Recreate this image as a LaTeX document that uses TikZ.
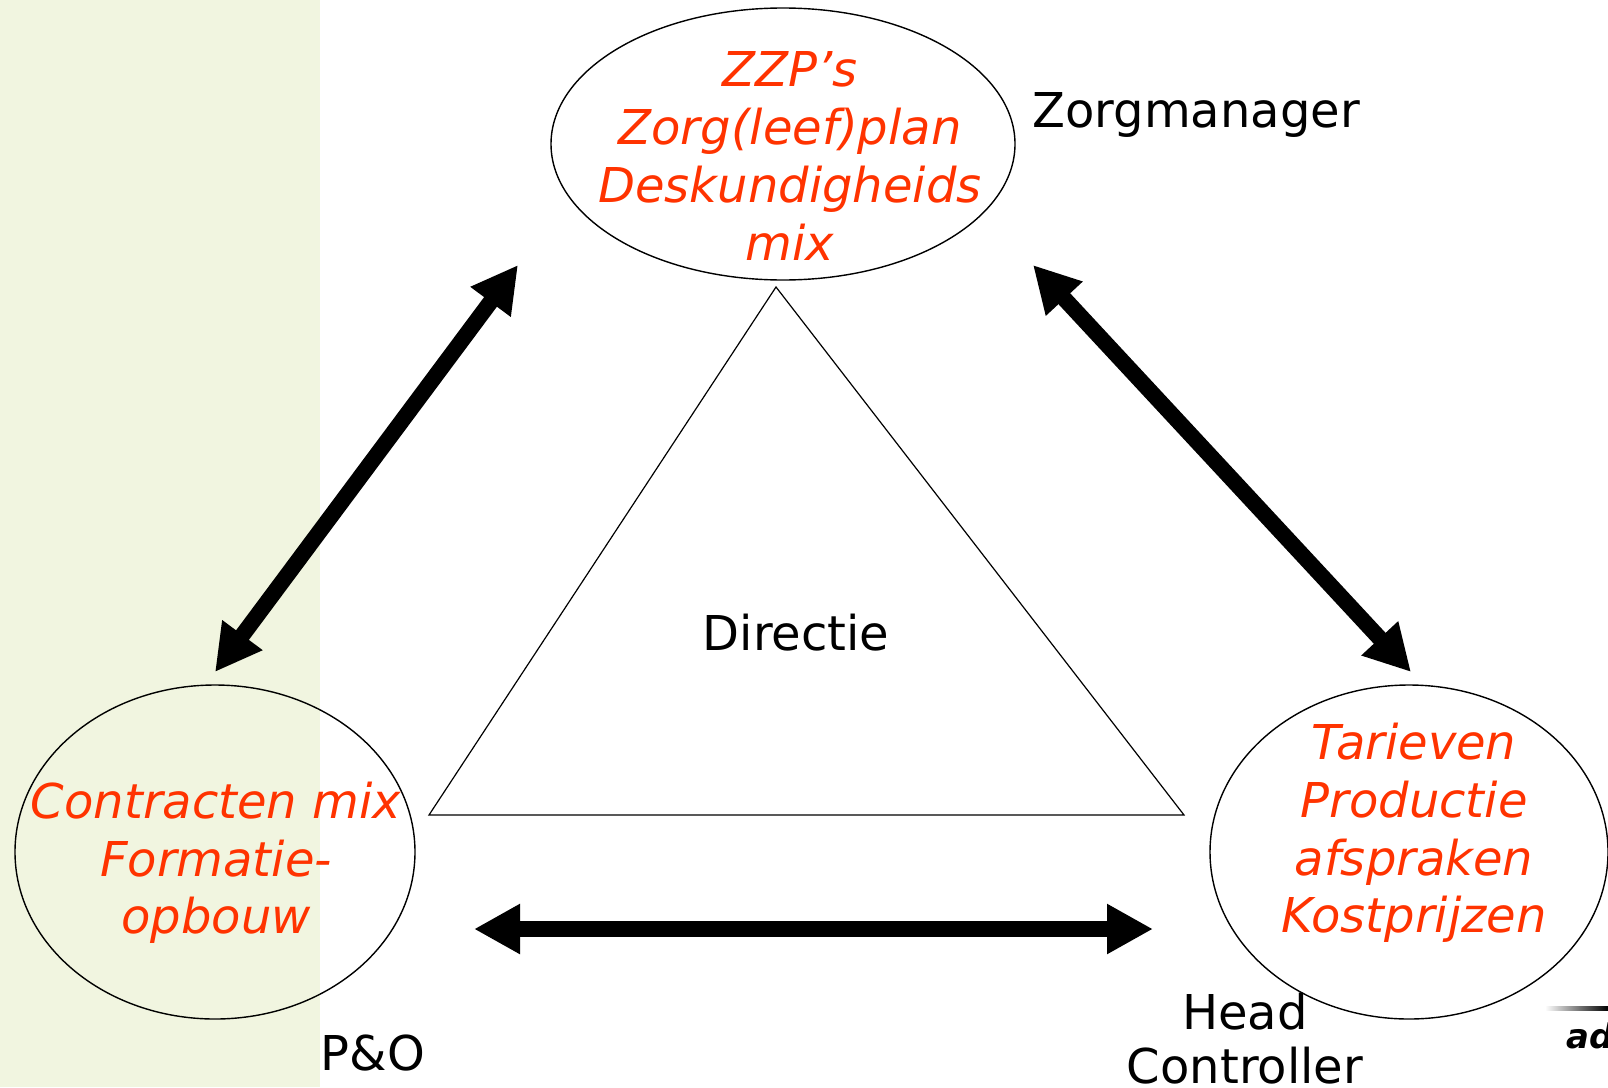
\documentclass[tikz,border=0pt]{standalone}
\usepackage{fontspec}
\setmainfont{DejaVu Sans}
\usetikzlibrary{shapes.geometric,arrows.meta}
\definecolor{bandgreen}{RGB}{241,245,224}
\definecolor{redtext}{RGB}{255,51,0}
\tikzset{
  oval/.style={draw=black, line width=1.4pt, ellipse, inner sep=0pt},
  redlabel/.style={text=redtext, align=center, font=\fontsize{48}{57.7}\selectfont\itshape},
  blacklabel/.style={text=black, align=center, font=\fontsize{48}{54}\selectfont},
  bigarrow/.style={line width=16pt, {Triangle[width=47pt,length=46pt]}-{Triangle[width=47pt,length=46pt]}}
}
\begin{document}
\begin{tikzpicture}[x=1pt,y=-1pt]
\useasboundingbox (0,0) rectangle (1608,1087);
\clip (0,0) rectangle (1608,1087);
\fill[bandgreen] (0,0) rectangle (320,1087);
% ellipses
\node[oval, minimum width=464pt, minimum height=272pt] (top) at (783,144) {};
\node[oval, minimum width=400pt, minimum height=334pt] (left) at (215,852) {};
\node[oval, minimum width=398pt, minimum height=334pt] (right) at (1409,852) {};
% texts
\node[redlabel] (toptext) at (790,156) {ZZP’s\\Zorg(leef)plan\\Deskundigheids\\mix};
\node[redlabel] (lefttext) at (216,863) {Contracten mix\\Formatie-\\opbouw};
\node[redlabel] (righttext) at (1414,833) {Tarieven\\Productie\\afspraken\\Kostprijzen};
% triangle
\coordinate (apex) at (776,287);
\coordinate (bl) at (429,815);
\coordinate (br) at (1184,815);
\draw[line width=1.2pt, line join=miter] (apex) -- (bl) -- (br) -- cycle;
\node[blacklabel] (directie) at (796,633) {Directie};
% role labels
\node[blacklabel, anchor=west] (zorgmanager) at (1029,115) {Zorgmanager};
\node[blacklabel] (po) at (373,1053) {P\&O};
\node[blacklabel] (head) at (1245,1039) {Head\\Controller};
% arrows
\coordinate (a1) at (518,265);
\coordinate (a2) at (215,672);
\coordinate (b1) at (1033,265);
\coordinate (b2) at (1411,672);
\coordinate (c1) at (474,929);
\coordinate (c2) at (1153,929);
\draw[bigarrow] (a2) -- (a1);
\draw[bigarrow] (b1) -- (b2);
\draw[bigarrow] (c1) -- (c2);
% logo fragment
\shade[left color=white, right color=black] (1545,1006) rectangle (1608,1010);
\node[anchor=west, font=\fontsize{34}{34}\selectfont\bfseries\itshape\rmfamily] (logo) at (1563,1036) {ad};
\end{tikzpicture}
\end{document}
